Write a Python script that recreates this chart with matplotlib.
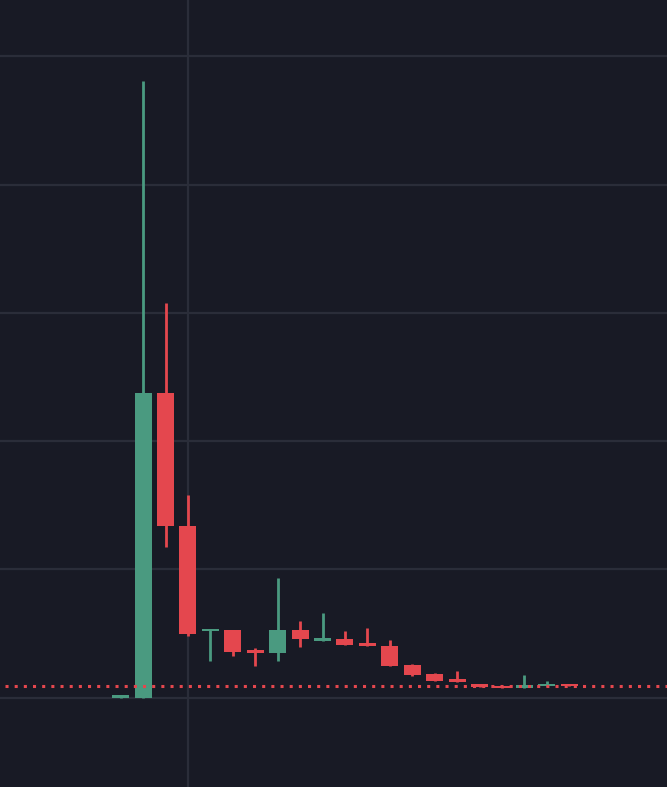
import matplotlib
matplotlib.use("Agg")
import matplotlib.pyplot as plt
import numpy as np

# Candle data (index, open, high, low, close)
idx = list(range(21))
opens  = [0.000, 0.000, 2.375, 1.338, 0.516, 0.523, 0.367, 0.346, 0.523, 0.443, 0.458,
          0.424, 0.398, 0.250, 0.180, 0.143, 0.109, 0.091, 0.076, 0.091, 0.109]
highs  = [0.012, 4.810, 3.078, 1.578, 0.527, 0.523, 0.385, 0.930, 0.596, 0.656, 0.516,
          0.545, 0.445, 0.258, 0.188, 0.205, 0.109, 0.091, 0.172, 0.127, 0.109]
lows   = [0.000, 0.000, 1.174, 0.479, 0.284, 0.323, 0.245, 0.284, 0.393, 0.438, 0.409,
          0.401, 0.245, 0.168, 0.130, 0.120, 0.080, 0.073, 0.076, 0.091, 0.088]
closes = [0.012, 2.375, 1.338, 0.492, 0.527, 0.354, 0.344, 0.523, 0.455, 0.467, 0.409,
          0.401, 0.245, 0.174, 0.130, 0.120, 0.080, 0.073, 0.099, 0.109, 0.088]
last_price = 0.090
grid_values = [0, 1, 2, 3, 4, 5]
vgrid_index = [3]

BG = "#181a25"
GRID = "#2a2d39"
UP = "#4a9a80"
DOWN = "#e4474e"

fig = plt.figure(figsize=(6.67, 7.87), dpi=100)
fig.patch.set_facecolor(BG)
ax = fig.add_axes([0, 0, 1, 1])
ax.set_facecolor(BG)

for g in grid_values:
    ax.axhline(g, color=GRID, lw=1.6, zorder=0)
for v in vgrid_index:
    ax.axvline(v, color=GRID, lw=1.6, zorder=0)

o = np.array(opens); c = np.array(closes); h = np.array(highs); l = np.array(lows)
x = np.array(idx)
up = c >= o
colors = [UP if u else DOWN for u in up]
bottoms = np.minimum(o, c)
heights = np.maximum(np.abs(c - o), 0.018)

ax.vlines(x, l, h, colors=colors, lw=2.0, zorder=2)
ax.bar(x, heights, bottom=bottoms, width=0.76, color=colors, zorder=3, linewidth=0)

ax.axhline(last_price, xmin=0.008, color=DOWN, lw=2.2, linestyle=(0, (1, 2)),
           dash_capstyle="butt", zorder=5)

ax.set_xlim(-5.38, 24.36)
ax.set_ylim(-0.698, 5.44)
ax.set_xticks([]); ax.set_yticks([])
for s in ax.spines.values():
    s.set_visible(False)

fig.savefig("out.png", dpi=100, facecolor=BG)
